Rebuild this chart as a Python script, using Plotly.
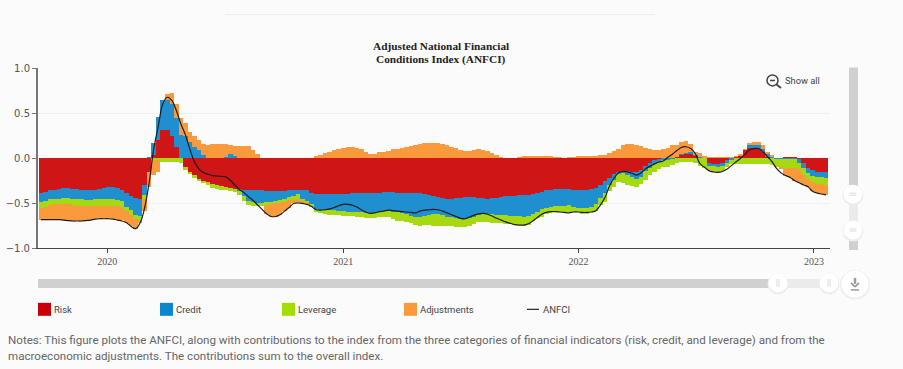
import pandas as pd
import plotly.graph_objects as go

dates = pd.date_range("2019-09-20", periods=175, freq="7D")

risk = [
-.39,-.38,-.36,-.35,-.34,-.335,-.335,-.34,-.345,-.35,
-.36,-.36,-.35,-.345,-.335,-.325,-.325,-.33,-.35,-.39,
-.42,-.44,-.45,-.30,-.15,.03,.20,.31,.31,.24,
.12,0,-.10,-.15,-.19,-.23,-.25,-.27,-.29,-.30,
-.31,-.32,-.33,-.34,-.35,-.355,-.355,-.36,-.36,-.36,
-.365,-.365,-.365,-.365,-.365,-.36,-.36,-.355,-.35,-.35,
-.385,-.395,-.40,-.40,-.40,-.40,-.395,-.395,-.395,-.39,
-.385,-.385,-.385,-.385,-.385,-.385,-.38,-.375,-.38,-.385,
-.385,-.385,-.39,-.39,-.39,-.40,-.41,-.42,-.43,-.44,
-.45,-.45,-.445,-.44,-.435,-.43,-.43,-.44,-.445,-.45,
-.445,-.44,-.43,-.425,-.42,-.42,-.415,-.41,-.41,-.405,
-.39,-.375,-.36,-.35,-.345,-.345,-.345,-.345,-.35,-.35,
-.355,-.355,-.345,-.33,-.30,-.26,-.22,-.18,-.15,-.14,
-.14,-.15,-.155,-.13,-.09,-.055,-.02,-.01,0,0,
.005,.01,.035,.045,.05,.03,.01,0,-.065,-.07,
-.07,-.06,-.02,-.005,.015,.03,.09,.107,.107,.10,
.07,.01,0,0,0,.005,.01,.005,-.015,-.05,
-.11,-.135,-.15,-.15,-.15]

credit = [
-.10,-.10,-.10,-.10,-.11,-.11,-.11,-.11,-.11,-.11,
-.105,-.105,-.11,-.115,-.125,-.135,-.135,-.135,-.13,-.15,
-.16,-.19,-.19,-.11,.01,.135,.26,.33,.33,.36,
.32,.26,.24,.18,.12,.09,.03,0,0,0,
0,.01,.05,.02,-.02,-.07,-.12,-.13,-.14,-.14,
-.125,-.12,-.115,-.10,-.085,-.07,-.06,-.05,-.10,-.13,
-.135,-.17,-.18,-.18,-.18,-.18,-.19,-.195,-.20,-.21,
-.22,-.22,-.225,-.23,-.225,-.22,-.21,-.21,-.215,-.22,
-.23,-.24,-.25,-.265,-.27,-.245,-.225,-.205,-.195,-.195,
-.20,-.21,-.225,-.235,-.245,-.24,-.225,-.19,-.18,-.17,
-.175,-.19,-.20,-.21,-.22,-.22,-.23,-.24,-.235,-.215,
-.205,-.195,-.20,-.19,-.185,-.185,-.185,-.18,-.19,-.20,
-.205,-.20,-.195,-.18,-.145,-.13,-.08,-.06,-.025,-.03,
-.045,-.065,-.075,-.085,-.055,-.055,-.045,-.03,-.025,-.02,
-.01,0,.005,.01,.015,.005,.005,0,-.02,-.02,
-.025,-.03,-.03,-.02,0,0,0,.035,.04,.04,
.035,.03,.01,-.01,-.015,-.015,-.015,-.015,-.045,-.06,
-.06,-.06,-.06,-.065,-.075]

leverage = [
-.06,-.06,-.06,-.06,-.06,-.065,-.07,-.07,-.075,-.075,
-.07,-.07,-.07,-.07,-.07,-.07,-.07,-.07,-.065,-.05,
-.05,-.05,-.05,-.05,0,-.02,-.02,-.04,-.04,-.04,
-.04,-.05,-.03,-.03,-.03,-.03,-.03,-.03,-.04,-.04,
-.04,-.04,-.04,-.04,-.04,-.05,-.05,-.04,-.03,-.03,
-.03,-.025,-.025,-.03,-.04,-.04,-.045,-.05,-.035,-.03,
-.02,-.035,-.035,-.045,-.05,-.055,-.05,-.05,-.05,-.045,
-.045,-.05,-.055,-.055,-.055,-.055,-.07,-.075,-.08,-.09,
-.09,-.085,-.085,-.09,-.095,-.10,-.11,-.125,-.13,-.125,
-.105,-.10,-.095,-.09,-.09,-.08,-.075,-.08,-.085,-.09,
-.10,-.095,-.095,-.10,-.095,-.10,-.10,-.10,-.095,-.08,
-.07,-.08,-.06,-.07,-.07,-.07,-.07,-.075,-.06,-.055,
-.06,-.07,-.065,-.075,-.08,-.095,-.07,-.08,-.09,-.105,
-.115,-.10,-.095,-.07,-.10,-.075,-.085,-.085,-.075,-.075,
-.065,-.055,-.045,-.04,-.04,-.05,-.09,-.11,-.05,-.05,
-.055,-.05,-.05,-.04,-.07,-.07,-.07,-.07,-.07,-.07,
-.07,-.07,-.08,-.09,-.085,-.10,-.10,-.10,-.06,-.08,
-.06,-.07,-.075,-.075,-.075]

adjustments = [
-.135,-.145,-.165,-.175,-.18,-.18,-.18,-.18,-.17,-.165,
-.16,-.155,-.15,-.145,-.145,-.145,-.15,-.15,-.145,-.13,
-.13,-.105,-.03,-.13,-.17,-.17,-.13,0,.07,.12,
.16,.18,.15,.11,.13,.11,.125,.15,.155,.155,
.155,.145,.10,.115,.13,.13,.13,.09,.04,0,
-.10,-.14,-.145,-.135,-.10,-.08,-.04,-.045,-.02,-.01,
0,.02,.035,.06,.07,.085,.10,.115,.12,.125,
.115,.10,.07,.045,.05,.065,.07,.08,.095,.105,
.115,.125,.135,.145,.16,.17,.17,.17,.165,.155,
.14,.125,.11,.09,.08,.08,.09,.095,.09,.08,
.06,.035,.01,0,0,0,.005,.015,.02,.02,
.02,.02,.02,.015,.01,.005,0,.01,.01,.015,
.02,.02,.02,.02,.03,.035,.055,.08,.105,.14,
.155,.155,.145,.13,.11,.10,.09,.09,.10,.115,
.14,.14,.14,.13,.09,.03,.04,.02,.01,.01,
.01,.01,.01,.01,.005,.01,.01,.03,.03,.04,
.035,.03,.025,0,-.02,-.08,-.10,-.135,-.155,-.11,
-.09,-.105,-.105,-.11,-.11]

anfci = [
-.685,-.685,-.685,-.685,-.685,-.69,-.695,-.70,-.70,-.70,
-.695,-.69,-.68,-.675,-.675,-.675,-.68,-.69,-.70,-.72,
-.76,-.785,-.72,-.55,-.27,.10,.35,.60,.675,.64,
.53,.38,.26,.10,-.04,-.12,-.16,-.18,-.195,-.20,
-.205,-.21,-.25,-.30,-.35,-.385,-.43,-.47,-.52,-.57,
-.62,-.65,-.65,-.63,-.59,-.55,-.505,-.50,-.505,-.515,
-.54,-.575,-.58,-.575,-.565,-.55,-.53,-.515,-.515,-.525,
-.545,-.575,-.60,-.615,-.61,-.595,-.59,-.58,-.585,-.59,
-.595,-.60,-.605,-.61,-.59,-.58,-.575,-.57,-.575,-.59,
-.61,-.63,-.65,-.67,-.675,-.655,-.635,-.62,-.615,-.625,
-.645,-.67,-.69,-.71,-.725,-.74,-.745,-.745,-.73,-.70,
-.66,-.625,-.605,-.595,-.595,-.60,-.605,-.61,-.60,-.60,
-.605,-.605,-.60,-.585,-.52,-.44,-.31,-.225,-.165,-.15,
-.155,-.17,-.19,-.165,-.12,-.09,-.065,-.045,-.03,.01,
.045,.085,.12,.125,.105,.05,-.06,-.10,-.14,-.155,
-.16,-.15,-.125,-.085,-.045,-.005,.04,.09,.105,.105,
.07,.015,-.04,-.115,-.165,-.195,-.215,-.25,-.275,-.30,
-.32,-.37,-.39,-.40,-.41]

title_lines = ["Adjusted National Financial", "Conditions Index (ANFCI)"]
y_ticks = [-1.0, -0.5, 0.0, 0.5, 1.0]
x_ticks = ["2020-01-01", "2021-01-01", "2022-01-01", "2023-01-01"]
x_labels = ["2020", "2021", "2022", "2023"]
notes_lines = ["Notes: This figure plots the ANFCI, along with contributions to the index from the three categories of financial indicators (risk, credit, and leverage) and from the",
               "macroeconomic adjustments. The contributions sum to the overall index."]

RED, BLUE, GREEN, ORANGE = "#cf1515", "#1f8fd0", "#a6d90f", "#fb9a3c"
BG = "#fbfbfb"
W, H = 903, 369
L, R, T, B = 38, 830, 67.5, 248

def px(x): return (x - L) / (R - L)
def py(y): return (B - y) / (B - T)

fig = go.Figure()
for name, vals, col in [("Risk", risk, RED), ("Credit", credit, BLUE),
                        ("Leverage", leverage, GREEN), ("Adjustments", adjustments, ORANGE)]:
    fig.add_bar(x=dates, y=vals, name=name, marker=dict(color=col, line=dict(width=0)))
fig.add_scatter(x=dates, y=anfci, name="ANFCI", mode="lines",
                line=dict(color="#1c1c1c", width=1.2, shape="spline"))

shapes, ann = [], []

def rect(x0, y0, x1, y1, fill):
    shapes.append(dict(type="rect", xref="paper", yref="paper", x0=px(x0), x1=px(x1),
                       y0=py(y0), y1=py(y1), fillcolor=fill, line=dict(width=0), layer="above"))

def circle(cx, cy, r, fill, line=None, lw=0):
    shapes.append(dict(type="circle", xref="paper", yref="paper", x0=px(cx - r), x1=px(cx + r),
                       y0=py(cy - r), y1=py(cy + r), fillcolor=fill,
                       line=dict(width=lw, color=line or fill), layer="above"))

def seg(x0, y0, x1, y1, col, w):
    shapes.append(dict(type="line", xref="paper", yref="paper", x0=px(x0), x1=px(x1),
                       y0=py(y0), y1=py(y1), line=dict(color=col, width=w), layer="above"))

def text(x, y, s, size, col, family, anchor="left", **kw):
    ann.append(dict(xref="paper", yref="paper", x=px(x), y=py(y), text=s, showarrow=False,
                    xanchor=anchor, yanchor="middle", align=anchor,
                    font=dict(size=size, color=col, family=family), **kw))

# top rule
seg(225, 14, 655, 14, "#ececec", 1)

# title
text(440.5, 45.5, "<b>" + title_lines[0] + "</b>", 11.3, "#222", "Liberation Serif", "center")
text(440.5, 58.5, "<b>" + title_lines[1] + "</b>", 11.3, "#222", "Liberation Serif", "center")

# show all control
circle(772.5, 80, 5.5, "rgba(0,0,0,0)", "#444", 1.5)
seg(770, 80, 775, 80, "#444", 1.5)
seg(776.5, 84, 781, 87.5, "#444", 1.8)
text(783, 80, "Show all", 9.3, "#444", "Roboto")

# vertical slider
rect(849, 67, 858, 250, "#d0d0d0")
rect(849, 194, 858, 230, "#ebebeb")
for cy in (194, 230):
    circle(853, cy + 1, 10.5, "#ececec")
    circle(853, cy, 9.5, "#ffffff")
    seg(849.5, cy - 1, 856.5, cy - 1, "#dcdcdc", 1)
    seg(849.5, cy + 1, 856.5, cy + 1, "#dcdcdc", 1)

# horizontal slider
rect(38, 279, 778, 288, "#d0d0d0")
rect(778, 279, 829, 288, "#ebebeb")
for cx in (778, 829):
    circle(cx, 284, 10.5, "#ececec")
    circle(cx, 283, 9.5, "#ffffff")
    seg(cx - 1, 279, cx - 1, 287, "#dcdcdc", 1)
    seg(cx + 1, 279, cx + 1, 287, "#dcdcdc", 1)

# download button
circle(855, 285, 15, "#eeeeee")
circle(855, 284, 13.5, "#ffffff")
seg(855, 278, 855, 284, "#9a9a9a", 2.5)
seg(851, 283, 855, 287, "#9a9a9a", 1.8)
seg(859, 283, 855, 287, "#9a9a9a", 1.8)
seg(851, 290, 859, 290, "#9a9a9a", 1.5)

# legend
for x, s, col in [(38, "Risk", "#c8000a"), (160, "Credit", "#0d86cc"),
                  (282, "Leverage", "#a4dd00"), (404, "Adjustments", ORANGE)]:
    rect(x, 303, x + 13, 316, col)
    text(x + 14, 309.5, s, 9.5, "#444", "Roboto")
seg(527, 309.5, 539, 309.5, "#222", 1.2)
text(541, 309.5, "ANFCI", 9.5, "#444", "Roboto")

# notes
text(6, 340, notes_lines[0], 11.6, "#666", "Roboto")
text(6, 356, notes_lines[1], 11.6, "#666", "Roboto")

fig.update_layout(
    width=W, height=H, showlegend=False, barmode="relative", bargap=0,
    paper_bgcolor=BG, plot_bgcolor=BG,
    margin=dict(l=L, r=W - R, t=T, b=H - B, pad=0, autoexpand=False),
    shapes=shapes, annotations=ann,
    xaxis=dict(type="date", range=["2019-09-15 12:00", "2023-01-26"], tickvals=x_ticks, ticktext=x_labels,
               automargin=False,
               showgrid=False, zeroline=False, showline=True, linecolor="#444", linewidth=1,
               ticks="outside", ticklen=4, tickcolor="#444", tickwidth=1,
               tickfont=dict(family="Liberation Serif", size=10, color="#555")),
    yaxis=dict(range=[-1, 1], tickvals=y_ticks, tickformat=".1f", automargin=False,
               showgrid=True, gridcolor="#efefef", gridwidth=1, zeroline=False,
               showline=True, linecolor="#777", linewidth=2,
               ticks="outside", ticklen=4, tickcolor="#777", tickwidth=1,
               tickfont=dict(family="DejaVu Sans", size=10, color="#555")),
)
fig.write_html("out.html", config={"displayModeBar": False},
               post_script="document.body.style.margin='0';document.body.style.background='%s';" % BG)
